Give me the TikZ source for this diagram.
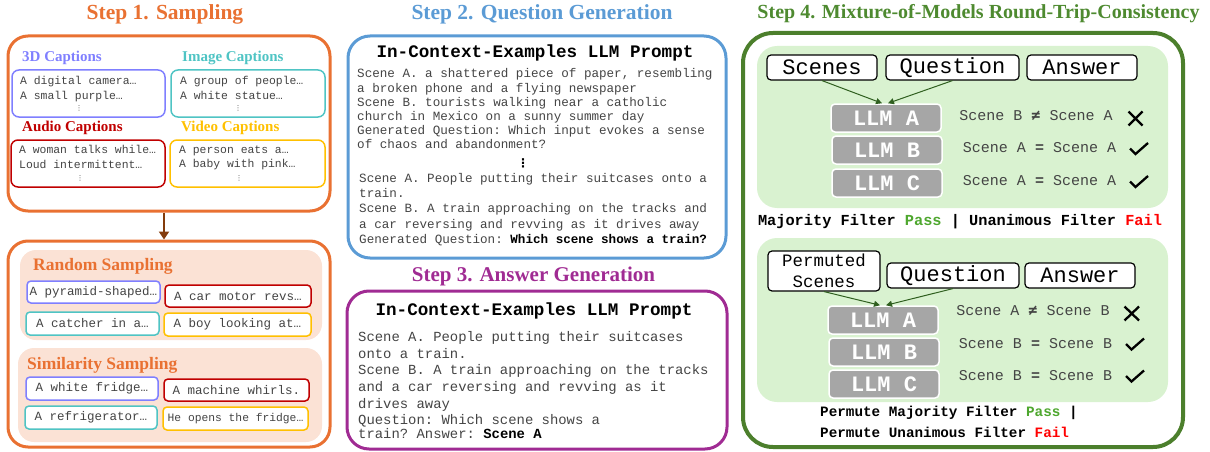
\documentclass[tikz,border=0pt]{standalone}
\usepackage{fontspec}
\setmainfont{Liberation Serif}
\setmonofont{Liberation Mono}
\newfontfamily\symmono{DejaVu Sans Mono}
\newfontfamily\symsans{DejaVu Sans}
\usetikzlibrary{arrows.meta,fit}
\definecolor{orgC}{HTML}{E97132}
\definecolor{bluC}{HTML}{5B9BD5}
\definecolor{purC}{HTML}{A02B93}
\definecolor{grnC}{HTML}{4C7F2C}
\definecolor{grnT}{HTML}{4E8A30}
\definecolor{ltgrn}{HTML}{D9F2D0}
\definecolor{peach}{HTML}{FBE2D5}
\definecolor{cthreed}{HTML}{7F7FFF}
\definecolor{cimg}{HTML}{4FC4C4}
\definecolor{caud}{HTML}{C00000}
\definecolor{cvid}{HTML}{FFC000}
\definecolor{brn}{HTML}{843C0C}
\definecolor{llmgray}{HTML}{A6A6A6}
\definecolor{passg}{HTML}{4EA72E}
\definecolor{failr}{HTML}{FF0000}
\definecolor{txt}{HTML}{444444}
\definecolor{darkgrn}{HTML}{2F5F1F}
\tikzset{
  bigbox/.style={draw=#1, line width=3pt, rounded corners=20pt, inner sep=0pt},
  capbox/.style={draw=#1, line width=1.5pt, rounded corners=7pt, fill=white, inner sep=0pt},
  smallbox/.style={draw=#1, line width=1.5pt, rounded corners=4pt, fill=white, inner sep=0pt, font=\fontsize{12.5}{14}\ttfamily, text=txt},
  panel/.style={fill=#1, rounded corners=16pt, inner sep=0pt},
  title/.style={font=\fontsize{21.5}{24}\selectfont\bfseries, inner sep=0pt},
  sublabel/.style={font=\fontsize{15}{17}\selectfont\bfseries, inner sep=0pt, anchor=west},
  samplabel/.style={font=\fontsize{17.5}{19}\selectfont\bfseries, text=orgC, inner sep=0pt, anchor=west},
  captxt/.style={font=\fontsize{11.4}{14.5}\ttfamily, text=txt, align=left, inner sep=0pt, anchor=north west},
  vdot/.style={inner sep=0pt, text=txt, font=\fontsize{7}{7}\symsans},
  prompthead/.style={font=\fontsize{17.6}{18}\ttfamily\bfseries, inner sep=0pt},
  inbox/.style={draw=black, line width=1.2pt, rounded corners=4pt, fill=white, inner sep=0pt, font=\fontsize{22}{22}\ttfamily},
  llm/.style={fill=llmgray, draw=white, line width=1.5pt, rounded corners=4pt, inner sep=0pt, font=\fontsize{22}{22}\ttfamily\bfseries, text=white},
  res/.style={font=\fontsize{15}{15}\ttfamily, text=txt, inner sep=0pt},
  flow/.style={draw=darkgrn, line width=1pt, -{Triangle[length=6pt,width=6pt]}},
  verdict/.style={draw=black, line width=2.3pt},
  filt/.style={font=\fontsize{15.3}{16}\ttfamily\bfseries, inner sep=0pt},
}
\begin{document}
\begin{tikzpicture}[x=1pt,y=-1pt]
\useasboundingbox (0,0) rectangle (1210,452);
% ---------------- Step 1 ----------------
\node[title, text=orgC] (t1) at (165,14) {Step 1. Sampling};
\node[bigbox=orgC, fit={(8,36)(330,211)}] (s1) {};
\node[capbox=cthreed, fit={(12,70)(165,117)}] (b3d) {};
\node[capbox=cimg, fit={(171,70)(325,117)}] (bimg) {};
\node[capbox=caud, fit={(11,140)(165,187)}] (baud) {};
\node[capbox=cvid, fit={(170,140)(325,187)}] (bvid) {};
\node[sublabel, text=cthreed] (l3d) at (22,58) {3D Captions};
\node[sublabel, text=cimg] (limg) at (182,58) {Image Captions};
\node[sublabel, text=caud] (laud) at (22,128) {Audio Captions};
\node[sublabel, text=cvid] (lvid) at (181,128) {Video Captions};
\node[captxt] (x3d) at (20,76.5) {A digital camera…\\A small purple…};
\node[captxt] (ximg) at (180,76.5) {A group of people…\\A white statue…};
\node[captxt] (xaud) at (19,145.5) {A woman talks while…\\Loud intermittent…};
\node[captxt] (xvid) at (179,145.5) {A person eats a…\\A baby with pink…};
\node[vdot] (d3d) at (79,108) {⋮};
\node[vdot] (dimg) at (238,108) {⋮};
\node[vdot] (daud) at (80,178) {⋮};
\node[vdot] (dvid) at (239,178) {⋮};
\node[bigbox=orgC, fit={(8,241)(330,447)}] (s2) {};
\draw[brn, line width=2.5pt, -{Triangle[length=8pt,width=10pt]}] ([xshift=-5pt]s1.south) -- ([xshift=-5pt]s2.north);
\node[panel=peach, fit={(20,250)(322,340)}] (prand) {};
\node[panel=peach, fit={(18,348)(322,442)}] (psim) {};
\node[samplabel] (lrand) at (33,266) {Random Sampling};
\node[samplabel] (lsim) at (27,365) {Similarity Sampling};
\node[smallbox=cthreed, minimum width=133pt, minimum height=22pt] (r1) at (93.5,292) {A pyramid-shaped…};
\node[smallbox=caud, minimum width=146pt, minimum height=22pt] (r2) at (238,296) {A car motor revs…};
\node[smallbox=cimg, minimum width=133pt, minimum height=23pt] (r3) at (92.5,323.5) {A catcher in a…};
\node[smallbox=cvid, minimum width=147pt, minimum height=23pt] (r4) at (237.5,324.5) {A boy looking at…};
\node[smallbox=cthreed, minimum width=132pt, minimum height=23pt] (q1) at (92,388.5) {A white fridge…};
\node[smallbox=caud, minimum width=145pt, minimum height=22pt] (q2) at (236.5,390) {A machine whirls.};
\node[smallbox=cimg, minimum width=132pt, minimum height=23pt] (q3) at (91,417.5) {A refrigerator…};
\node[smallbox=cvid, minimum width=145pt, minimum height=23pt, font=\fontsize{11.3}{12}\ttfamily] (q4) at (235.5,418.5) {He opens the fridge…};
% ---------------- Step 2 ----------------
\node[title, text=bluC] (t2) at (542,14) {Step 2. Question Generation};
\node[bigbox=bluC, rounded corners=22pt, fit={(348,36)(726,258)}] (s3) {};
\node[prompthead] (h2) at (535,53) {In-Context-Examples LLM Prompt};
\node[captxt, font=\fontsize{12.6}{14.2}\ttfamily] (p2a) at (357,68.5) {Scene A. a shattered piece of paper, resembling\\a broken phone and a flying newspaper\\Scene B. tourists walking near a catholic\\church in Mexico on a sunny summer day\\Generated Question: Which input evokes a sense\\of chaos and abandonment?};
\node[vdot, text=black, font=\fontsize{12}{12}\symsans\bfseries] (d2) at (523,163) {⋮};
\node[captxt, font=\fontsize{12.6}{15.25}\ttfamily] (p2b) at (359,173) {Scene A. People putting their suitcases onto a\\train.\\Scene B. A train approaching on the tracks and\\a car reversing and revving as it drives away\\Generated Question: {\color{black}\bfseries Which scene shows a train?}};
% ---------------- Step 3 ----------------
\node[title, text=purC, font=\fontsize{21}{24}\selectfont\bfseries] (t3) at (533.5,276) {Step 3. Answer Generation};
\node[bigbox=purC, rounded corners=22pt, fit={(347,291)(727,449)}] (s4) {};
\node[prompthead] (h3) at (534,311) {In-Context-Examples LLM Prompt};
\node[captxt, font=\fontsize{13.9}{16.6}\ttfamily] (p3) at (358,331.5) {Scene A. People putting their suitcases\\onto a train.\\Scene B. A train approaching on the tracks\\and a car reversing and revving as it\\drives away\\Question: Which scene shows a\\[-2.5pt]train? Answer: {\color{black}\bfseries Scene A}};
% ---------------- Step 4 ----------------
\node[title, text=grnT, font=\fontsize{20}{24}\selectfont\bfseries] (t4) at (978.5,14) {Step 4. Mixture-of-Models Round-Trip-Consistency};
\node[bigbox=grnC, line width=4pt, rounded corners=30pt, fit={(743,33)(1183,447)}] (s5) {};
\node[panel=ltgrn, rounded corners=20pt, fit={(757,46)(1168,208)}] (pa) {};
\node[panel=ltgrn, rounded corners=20pt, fit={(757,238)(1168,402)}] (pb) {};
% panel 1
\node[inbox, minimum width=110pt, minimum height=25pt] (sc1) at (822,67.5) {Scenes};
\node[inbox, minimum width=133pt, minimum height=25pt] (qu1) at (952.5,67.5) {Question};
\node[inbox, minimum width=110pt, minimum height=25pt] (an1) at (1082,67.5) {Answer};
\node[llm, minimum width=110pt, minimum height=28pt] (la1) at (886,118) {LLM A};
\node[llm, minimum width=110pt, minimum height=28pt] (lb1) at (887,150) {LLM B};
\node[llm, minimum width=110pt, minimum height=28pt] (lc1) at (887,183) {LLM C};
\draw[flow] (sc1.south) -- ([xshift=-4pt]la1.north);
\draw[flow] (qu1.south) -- ([xshift=2pt]la1.north);
\node[res] (ra1) at (1036,116) {Scene B {\symmono\bfseries ≠} Scene A};
\node[res] (rb1) at (1039.5,148) {Scene A {\bfseries =} Scene A};
\node[res] (rc1) at (1039.5,181) {Scene A {\bfseries =} Scene A};
\draw[verdict] (1128.5,111.5) -- (1142.5,125.5) (1128.5,125.5) -- (1142.5,111.5);
\draw[verdict] (1130,148.5) -- (1135.5,154) -- (1148,143);
\draw[verdict] (1130,181.5) -- (1135.5,187) -- (1148,176);
\node[filt] (f1) at (960,222) {Majority Filter {\color{passg}Pass} | Unanimous Filter {\color{failr}Fail}};
% panel 2
\node[inbox, minimum width=112pt, minimum height=40pt, align=center, font=\fontsize{17.4}{21}\ttfamily] (sc2) at (824,271) {Permuted\\Scenes};
\node[inbox, minimum width=132pt, minimum height=25pt] (qu2) at (953,275.5) {Question};
\node[inbox, minimum width=110pt, minimum height=25pt] (an2) at (1080,275.5) {Answer};
\node[llm, minimum width=110pt, minimum height=28pt] (la2) at (883,320) {LLM A};
\node[llm, minimum width=110pt, minimum height=28pt] (lb2) at (884,352) {LLM B};
\node[llm, minimum width=110pt, minimum height=28pt] (lc2) at (884,384) {LLM C};
\draw[flow] (sc2.south) -- ([xshift=-3pt]la2.north);
\draw[flow] (qu2.south) -- ([xshift=3pt]la2.north);
\node[res] (ra2) at (1033,311) {Scene A {\symmono\bfseries ≠} Scene B};
\node[res] (rb2) at (1035.5,344) {Scene B {\bfseries =} Scene B};
\node[res] (rc2) at (1035.5,376) {Scene B {\bfseries =} Scene B};
\draw[verdict] (1124.5,306.5) -- (1139,320.5) (1124.5,320.5) -- (1139,306.5);
\draw[verdict] (1126,344) -- (1131.5,349.5) -- (1144,338.5);
\draw[verdict] (1126,376) -- (1131.5,381.5) -- (1144,370.5);
\node[filt, font=\fontsize{14.3}{15}\ttfamily\bfseries, anchor=west] (f2) at (820,413) {Permute Majority Filter {\color{passg}Pass} |};
\node[filt, font=\fontsize{14.3}{15}\ttfamily\bfseries, anchor=west] (f3) at (820,432) {Permute Unanimous Filter {\color{failr}Fail}};
\end{tikzpicture}
\end{document}
